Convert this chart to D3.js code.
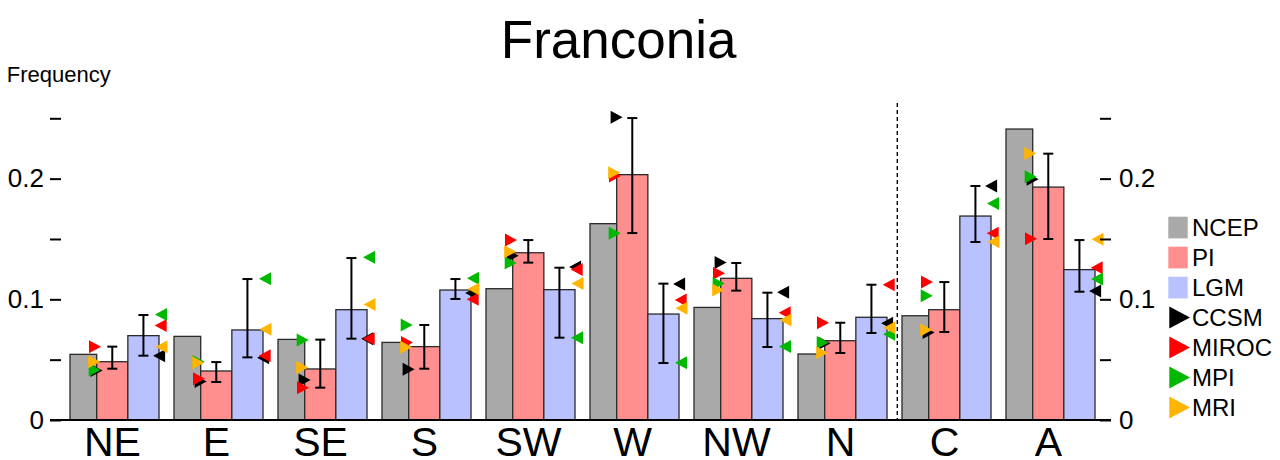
<!DOCTYPE html>
<html>
<head>
<meta charset="utf-8">
<script src="https://cdn.jsdelivr.net/npm/d3@7"></script>
<style>
html,body{margin:0;padding:0;background:#fff;}
svg{display:block;font-family:"Liberation Sans",Arial,Helvetica,sans-serif;}
</style>
</head>
<body>
<svg id="chart" width="1280" height="460"></svg>
<script>
// ---------- data ----------
const categories = ["NE","E","SE","S","SW","W","NW","N","C","A"];
const ncep = [0.0544, 0.0693, 0.0668, 0.0643, 0.1088, 0.1627, 0.0933, 0.0547, 0.0864, 0.2411];
const pi   = [0.0483, 0.0406, 0.0423, 0.0608, 0.1386, 0.2033, 0.1174, 0.0657, 0.0914, 0.1930];
const lgm  = [0.0699, 0.0746, 0.0914, 0.1077, 0.1080, 0.0878, 0.0840, 0.0851, 0.1690, 0.1246];
const piLow   = [0.0425, 0.0315, 0.0268, 0.0425, 0.1304, 0.1549, 0.1072, 0.0555, 0.0729, 0.1500];
const piHigh  = [0.0608, 0.0480, 0.0666, 0.0787, 0.1491, 0.2502, 0.1301, 0.0806, 0.1143, 0.2207];
const lgmLow  = [0.0533, 0.0519, 0.0674, 0.1003, 0.0682, 0.0472, 0.0605, 0.0721, 0.1475, 0.1063];
const lgmHigh = [0.0870, 0.1168, 0.1342, 0.1168, 0.1262, 0.1130, 0.1055, 0.1121, 0.1939, 0.1491];
// model values for PI (right-pointing) and LGM (left-pointing)
const ccsmPI  = [0.0410, 0.0318, 0.0331, 0.0420, 0.1362, 0.2508, 0.1306, 0.0635, 0.0726, 0.1994];
const mirocPI = [0.0607, 0.0342, 0.0268, 0.0643, 0.1491, 0.2022, 0.1215, 0.0806, 0.1143, 0.1502];
const mpiPI   = [0.0414, 0.0483, 0.0663, 0.0787, 0.1301, 0.1547, 0.1132, 0.0643, 0.1030, 0.2016];
const mriPI   = [0.0483, 0.0475, 0.0436, 0.0602, 0.1395, 0.2049, 0.1077, 0.0558, 0.0746, 0.2209];
const ccsmLGM  = [0.0533, 0.0516, 0.0674, 0.1052, 0.1268, 0.1127, 0.1058, 0.0801, 0.1939, 0.1069];
const mirocLGM = [0.0784, 0.0533, 0.0674, 0.1000, 0.1248, 0.0994, 0.0889, 0.1121, 0.1547, 0.1262];
const mpiLGM   = [0.0875, 0.1170, 0.1348, 0.1174, 0.0682, 0.0475, 0.0610, 0.0710, 0.1795, 0.1168];
const mriLGM   = [0.0608, 0.0751, 0.0958, 0.1085, 0.1132, 0.0925, 0.0828, 0.0765, 0.1478, 0.1497];
const yTicks = [0, 0.05, 0.1, 0.15, 0.2, 0.25];
const yTickLabels = ["0", "", "0.1", "", "0.2", ""];
const barSeries = ["NCEP","PI","LGM"];
const modelNames = ["CCSM","MIROC","MPI","MRI"];

// ---------- layout/styles ----------
const FONT = '"Liberation Sans",Arial,Helvetica,sans-serif';
const barColors = {NCEP:"#a9a9a9", PI:"#ff8f8f", LGM:"#b9c1ff"};
const modelColors = {CCSM:"#000000", MIROC:"#ff0000", MPI:"#00b800", MRI:"#ffb400"};
const modelShift = {CCSM:1.6, MIROC:0, MPI:-0.3, MRI:-0.8};
const subFrac = {NCEP:[0,0.3], PI:[0.3,0.65], LGM:[0.65,1.0]};

const svg = d3.select("#chart");
svg.append("rect").attr("width",1280).attr("height",460).attr("fill","#fff");

const x = d3.scaleBand().domain(categories).range([70, 1095]).paddingInner(15/104).paddingOuter(0);
const bw = x.bandwidth();
const y = d3.scaleLinear().domain([0, 0.25]).range([420, 118.3]);

const seriesVals = {NCEP:ncep, PI:pi, LGM:lgm};

// bars
const gBars = svg.append("g");
barSeries.forEach(s => {
  gBars.selectAll(null).data(categories).enter().append("rect")
    .attr("x", c => x(c) + subFrac[s][0]*bw)
    .attr("width", (subFrac[s][1]-subFrac[s][0])*bw)
    .attr("y", (c,i) => y(seriesVals[s][i]))
    .attr("height", (c,i) => y(0) - y(seriesVals[s][i]))
    .attr("fill", barColors[s])
    .attr("stroke", "#2a2a2a")
    .attr("stroke-width", 1.3);
});

// error bars
function errBars(series, lo, hi) {
  const g = svg.append("g").attr("stroke","#000").attr("stroke-width",2).attr("fill","none");
  categories.forEach((c,i) => {
    const cx = x(c) + (subFrac[series][0]+subFrac[series][1])/2*bw;
    g.append("line").attr("x1",cx).attr("x2",cx).attr("y1",y(lo[i])).attr("y2",y(hi[i]));
    g.append("line").attr("x1",cx-5).attr("x2",cx+5).attr("y1",y(lo[i])).attr("y2",y(lo[i]));
    g.append("line").attr("x1",cx-5).attr("x2",cx+5).attr("y1",y(hi[i])).attr("y2",y(hi[i]));
  });
}
errBars("PI", piLow, piHigh);
errBars("LGM", lgmLow, lgmHigh);

// model triangles
const piModels = {CCSM:ccsmPI, MIROC:mirocPI, MPI:mpiPI, MRI:mriPI};
const lgmModels = {CCSM:ccsmLGM, MIROC:mirocLGM, MPI:mpiLGM, MRI:mriLGM};
const gTri = svg.append("g");
modelNames.forEach(m => {
  categories.forEach((c,i) => {
    const bx = x(c) + subFrac.PI[0]*bw + modelShift[m];
    const yy = y(piModels[m][i]);
    gTri.append("path")
      .attr("d", `M${bx-7.7},${yy-6.5}L${bx+4.3},${yy}L${bx-7.7},${yy+6.5}Z`)
      .attr("fill", modelColors[m]);
    const ex = x(c) + bw - modelShift[m];
    const y2 = y(lgmModels[m][i]);
    gTri.append("path")
      .attr("d", `M${ex+7.7},${y2-6.5}L${ex-4.3},${y2}L${ex+7.7},${y2+6.5}Z`)
      .attr("fill", modelColors[m]);
  });
});

// dashed separator
const sepX = x("C") - 4.7;
svg.append("line").attr("x1",sepX).attr("x2",sepX).attr("y1",103).attr("y2",420)
  .attr("stroke","#000").attr("stroke-width",1.4).attr("stroke-dasharray","4,3");

// axes
const fmt = d => yTickLabels[yTicks.indexOf(d)];
const left = svg.append("g").attr("transform","translate(61,0)")
  .call(d3.axisLeft(y).tickValues(yTicks).tickFormat(fmt).tickSize(11).tickPadding(6));
const right = svg.append("g").attr("transform","translate(1100,0)")
  .call(d3.axisRight(y).tickValues(yTicks).tickFormat(fmt).tickSize(11).tickPadding(8));
[left, right].forEach(g => {
  g.select(".domain").remove();
  g.selectAll(".tick line").attr("stroke","#000").attr("stroke-width",2);
  g.selectAll(".tick text").attr("font-size",26).attr("font-family",FONT).attr("fill","#000");
});

// baseline
svg.append("line").attr("x1",50).attr("x2",1111).attr("y1",y(0)).attr("y2",y(0))
  .attr("stroke","#000").attr("stroke-width",2.2);

// category labels
svg.append("g").selectAll("text").data(categories).enter().append("text")
  .attr("x", c => x(c) + bw/2 - 2)
  .attr("y", 455.5)
  .attr("text-anchor","middle")
  .attr("font-size",41)
  .attr("font-family",FONT)
  .text(c => c);

// title
svg.append("text").attr("x",618.7).attr("y",57.7).attr("text-anchor","middle")
  .attr("font-size",53).attr("font-family",FONT).text("Franconia");
svg.append("text").attr("x",6.8).attr("y",81.7)
  .attr("font-size",22).attr("font-family",FONT).text("Frequency");

// legend
const legendItems = barSeries.map(s => ({name:s, type:"box"})).concat(modelNames.map(m => ({name:m, type:"tri"})));
const lg = svg.append("g");
legendItems.forEach((it,i) => {
  const cy = 227.5 + 30*i;
  if (it.type === "box") {
    lg.append("rect").attr("x",1168.3).attr("y",cy-10.8).attr("width",19.4).attr("height",21.7)
      .attr("fill", barColors[it.name]);
  } else {
    lg.append("path").attr("d", `M1169.3,${cy-11}L1190,${cy}L1169.3,${cy+11}Z`)
      .attr("fill", modelColors[it.name]);
  }
  lg.append("text").attr("x",1192).attr("y",cy).attr("dy","0.36em")
    .attr("font-size",24).attr("font-family",FONT).text(it.name);
});
</script>
</body>
</html>
